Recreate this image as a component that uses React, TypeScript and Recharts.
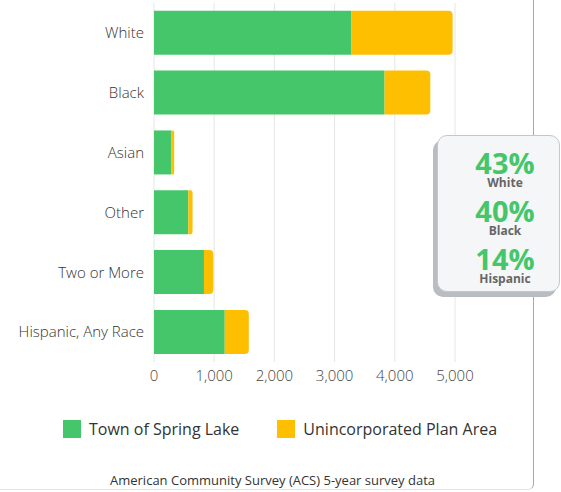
import { BarChart, Bar, XAxis, YAxis, CartesianGrid } from "recharts";

const categories = ["White", "Black", "Asian", "Other", "Two or More", "Hispanic, Any Race"];
const townValues = [3275, 3830, 285, 570, 830, 1175];
const unincorporatedValues = [1685, 760, 50, 70, 155, 400];
const xTicks = [0, 1000, 2000, 3000, 4000, 5000];

const highlightPercents = ["43%", "40%", "14%"];
const highlightLabels = ["White", "Black", "Hispanic"];

const GREEN = "#45c66a";
const YELLOW = "#fdbf00";
const FONT = "'Open Sans', sans-serif";

const data = categories.map((name, i) => ({
  name,
  town: townValues[i],
  uninc: unincorporatedValues[i],
}));

const legendItems = [
  { label: "Town of Spring Lake", color: GREEN },
  { label: "Unincorporated Plan Area", color: YELLOW },
];

function LegendRow() {
  return (
    <div style={{ position: "absolute", top: 420, left: 0, width: 560, display: "flex", justifyContent: "center", gap: 38 }}>
      {legendItems.map((item) => (
        <div key={item.label} style={{ display: "flex", alignItems: "center" }}>
          <span style={{ width: 18, height: 18, background: item.color, display: "inline-block", marginRight: 8 }} />
          <span style={{ fontSize: 16, color: "#333", lineHeight: "18px" }}>{item.label}</span>
        </div>
      ))}
    </div>
  );
}

export default function App() {
  return (
    <div style={{ position: "absolute", top: 0, left: 0, width: 561, height: 492, overflow: "hidden", background: "#fff", fontFamily: FONT }}>
      {/* card border, only right side and corner visible */}
      <div
        style={{
          position: "absolute",
          left: -20,
          top: -20,
          width: 554,
          height: 510,
          borderRight: "1.5px solid #a8a8a8",
          borderBottom: "1px solid #e2e2e2",
          borderBottomRightRadius: 6,
          boxSizing: "border-box",
        }}
      />
      <BarChart
        width={561}
        height={400}
        data={data}
        layout="vertical"
        margin={{ top: 3, right: 106, bottom: 8, left: 0 }}
        barCategoryGap="13%"
        style={{ position: "absolute", top: 0, left: 0 }}
      >
        <CartesianGrid horizontal={false} stroke="#e6e6e6" />
        <XAxis
          type="number"
          domain={[0, 5000]}
          ticks={xTicks}
          tickFormatter={(v: number) => v.toLocaleString("en-US")}
          axisLine={false}
          tickLine={false}
          height={30}
          tick={{ fill: "#444", fontSize: 15, fontFamily: FONT, fontWeight: 300 }}
        />
        <YAxis
          type="category"
          dataKey="name"
          width={154}
          axisLine={false}
          tickLine={false}
          tickMargin={4}
          tick={{ fill: "#333", fontSize: 15, fontFamily: FONT, fontWeight: 300 }}
        />
        <Bar dataKey="town" stackId="a" fill={GREEN} isAnimationActive={false} />
        <Bar dataKey="uninc" stackId="a" fill={YELLOW} radius={[0, 4, 4, 0]} isAnimationActive={false} />
      </BarChart>

      <LegendRow />

      {/* highlight box */}
      <div
        style={{
          position: "absolute",
          left: 437,
          top: 135,
          width: 123,
          height: 157,
          background: "#f4f6f8",
          border: "1px solid #c4c8cc",
          borderRadius: 10,
          boxShadow: "-4px 5px 0 #b9bdc1",
          textAlign: "center",
          paddingTop: 14,
          paddingLeft: 13,
          boxSizing: "border-box",
        }}
      >
        {highlightPercents.map((p, i) => (
          <div key={p} style={{ marginBottom: 9 }}>
            <div style={{ color: GREEN, fontWeight: 700, fontSize: 29, lineHeight: "26px" }}>{p}</div>
            <div style={{ color: "#666", fontWeight: 700, fontSize: 12, lineHeight: "13px" }}>{highlightLabels[i]}</div>
          </div>
        ))}
      </div>

      <div style={{ position: "absolute", top: 471, left: 0, width: 545, textAlign: "center", fontSize: 13, color: "#333" }}>
        American Community Survey (ACS) 5-year survey data
      </div>
    </div>
  );
}
